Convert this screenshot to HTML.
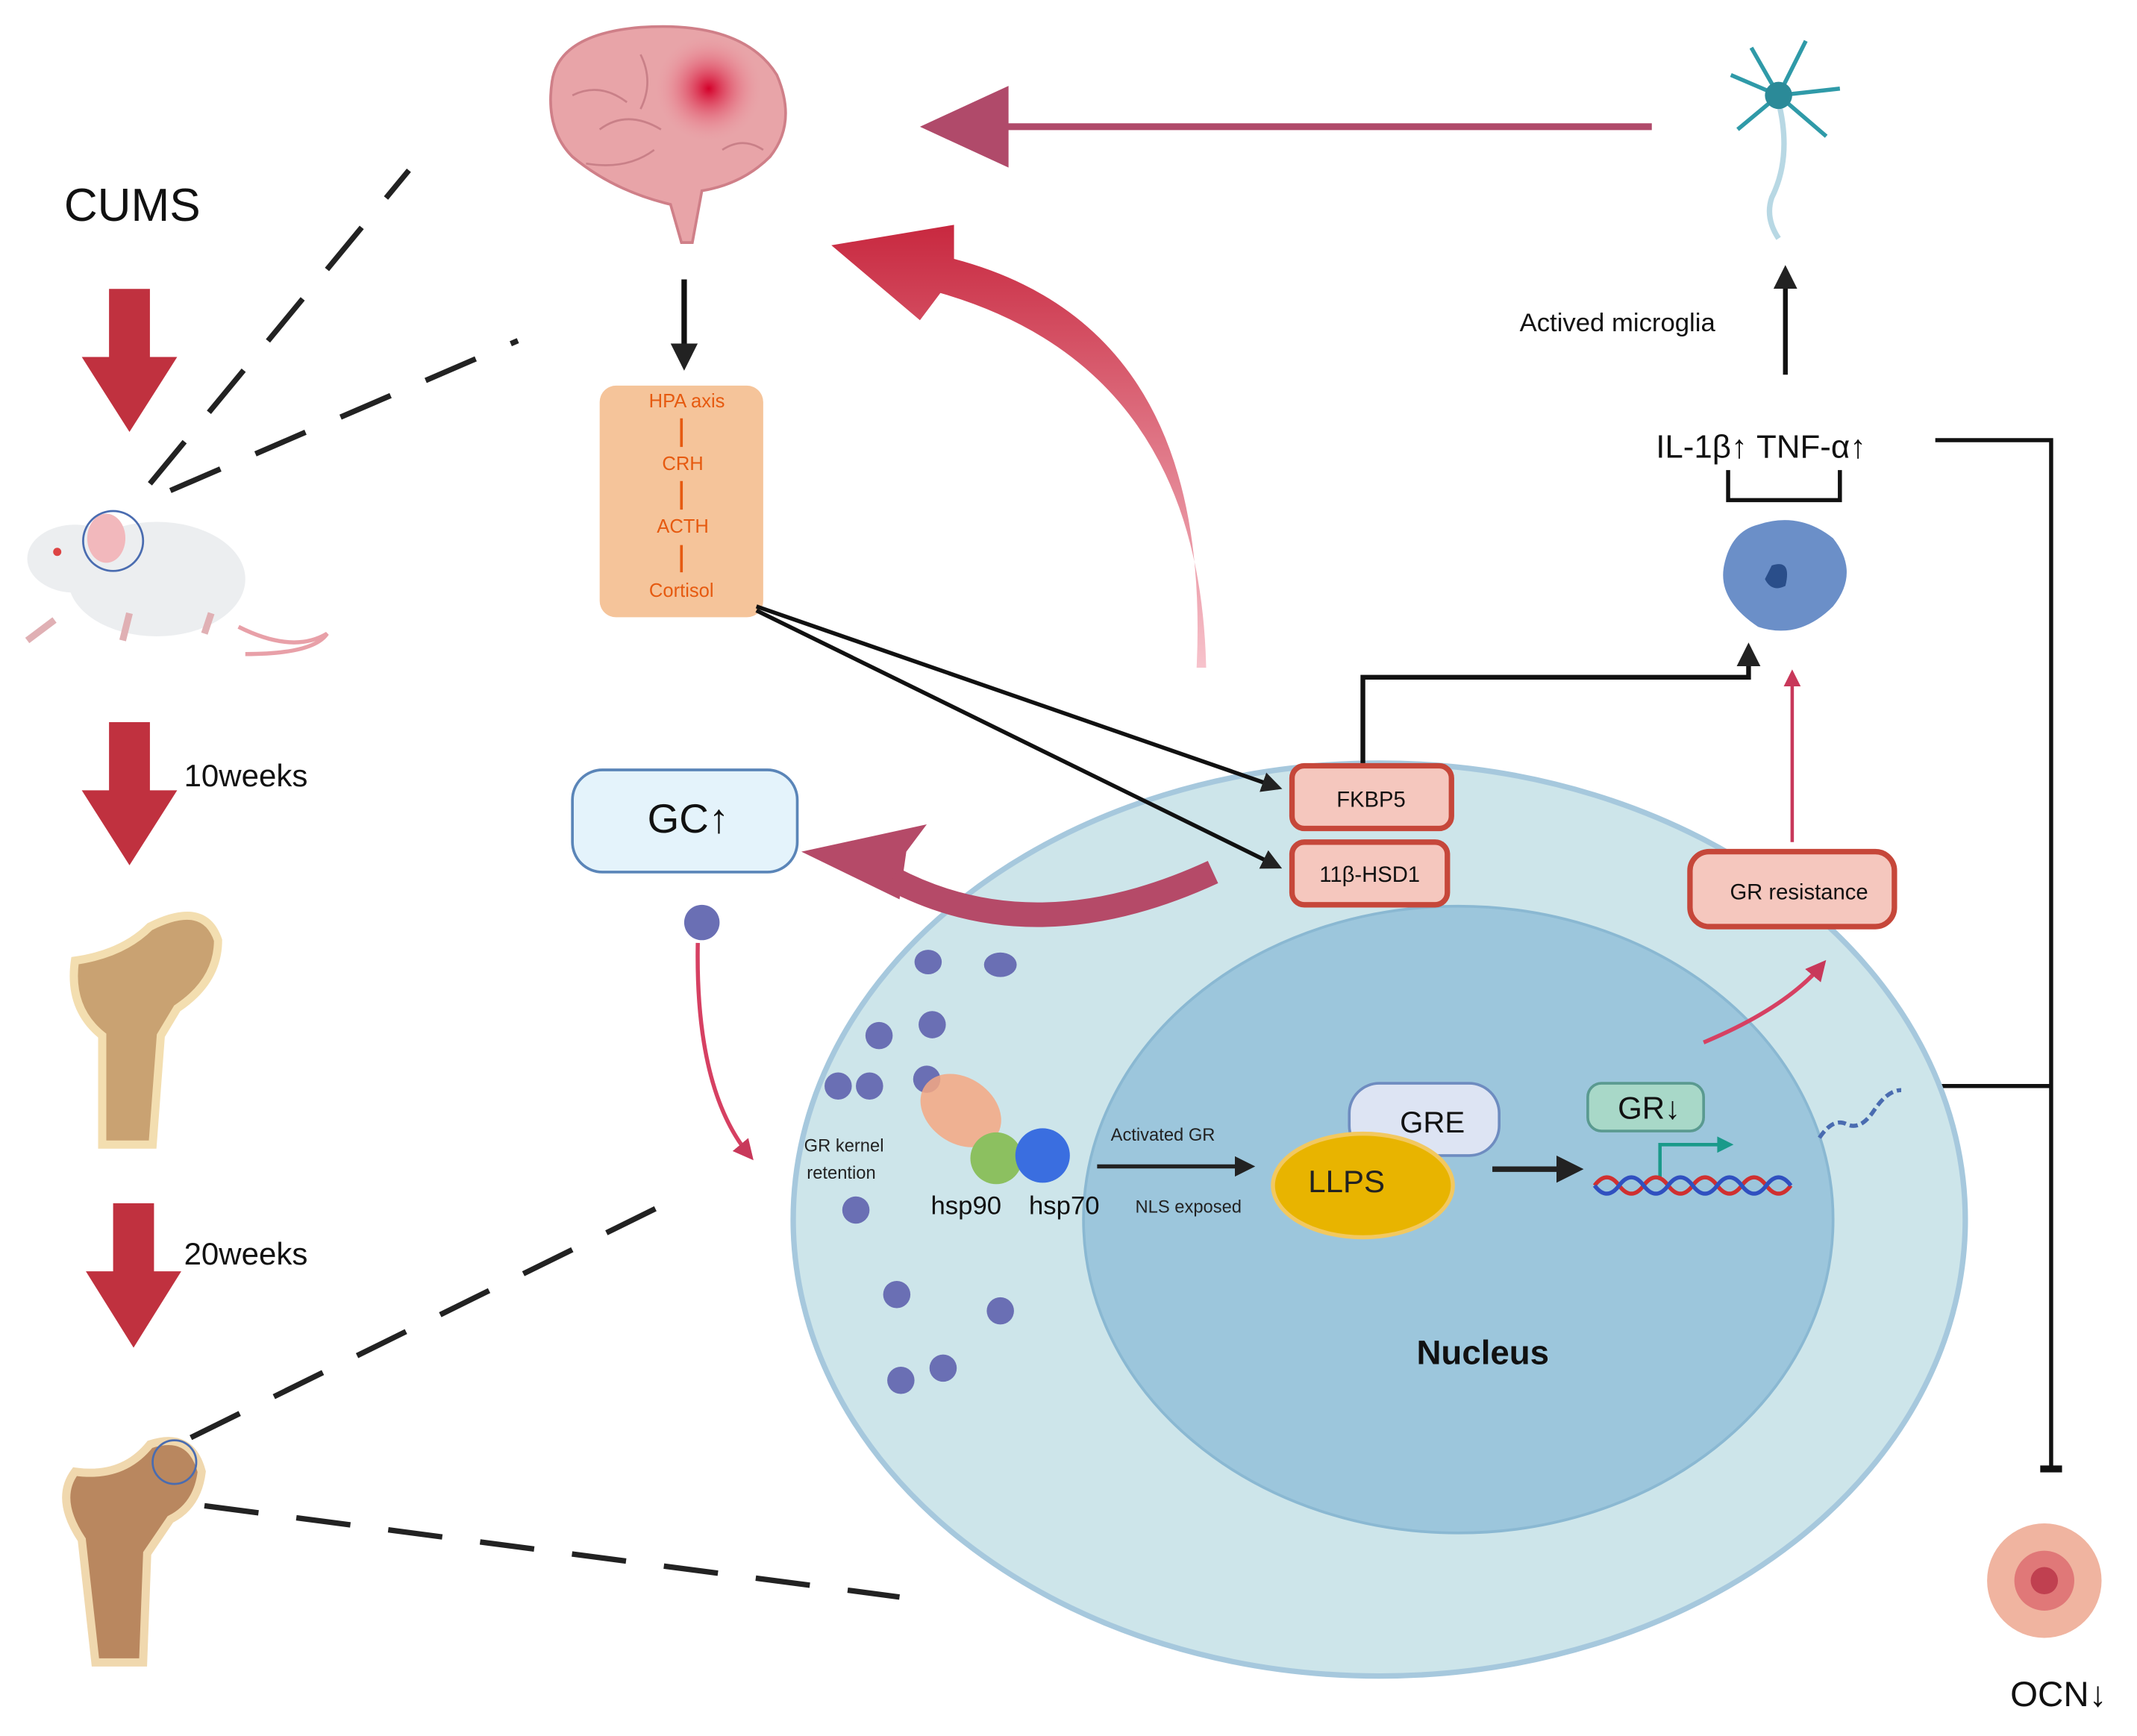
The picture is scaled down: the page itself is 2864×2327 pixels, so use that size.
<!DOCTYPE html>
<html><head><meta charset="utf-8"><style>
html,body{margin:0;padding:0;background:#fff;}
svg{display:block;}
text{font-family:"Liberation Sans",sans-serif;}
</style></head><body>
<svg width="2864" height="2327" viewBox="0 0 1568 1274" xmlns="http://www.w3.org/2000/svg">
<defs>
<marker id="ab" markerWidth="5" markerHeight="5" refX="4" refY="2.5" orient="auto" markerUnits="strokeWidth"><path d="M0,0 L5,2.5 L0,5 Z" fill="#222"/></marker>
<marker id="ap" markerWidth="5" markerHeight="5" refX="3.5" refY="2.5" orient="auto" markerUnits="strokeWidth"><path d="M0,0 L5,2.5 L0,5 Z" fill="#c8385a"/></marker>
<radialGradient id="spot" cx="0.5" cy="0.5" r="0.5"><stop offset="0" stop-color="#d4002a"/><stop offset="1" stop-color="#f0a0a8" stop-opacity="0"/></radialGradient>
<linearGradient id="cur" x1="0" y1="1" x2="0" y2="0"><stop offset="0" stop-color="#f7c3cc"/><stop offset="1" stop-color="#c8283f"/></linearGradient>
</defs>

<text x="47" y="162" font-size="34" fill="#111">CUMS</text>
<g fill="#c0313f">
<path d="M80,212 h30 v50 h20 l-35,55 l-35,-55 h20 z"/>
<path d="M80,530 h30 v50 h20 l-35,55 l-35,-55 h20 z"/>
<path d="M83,883 h30 v50 h20 l-35,56 l-35,-56 h20 z"/>
</g>
<text x="135" y="577" font-size="23" fill="#111">10weeks</text>
<text x="135" y="928" font-size="23" fill="#111">20weeks</text>

<g>
<path d="M175,460 q40,20 65,5 q-10,15 -60,15" fill="none" stroke="#e8a0a8" stroke-width="3"/>
<ellipse cx="115" cy="425" rx="65" ry="42" fill="#eceef0"/>
<ellipse cx="55" cy="410" rx="35" ry="25" fill="#eceef0"/>
<ellipse cx="78" cy="395" rx="14" ry="18" fill="#f2b8bc"/>
<circle cx="83" cy="397" r="22" fill="none" stroke="#4a6cb0" stroke-width="1.5"/>
<circle cx="42" cy="405" r="3" fill="#d44"/>
<path d="M20,470 l20,-15 M90,470 l5,-20 M150,465 l5,-15" stroke="#e0b0b4" stroke-width="5"/>
</g>

<path d="M75,840 L75,760 Q50,740 55,705 Q90,700 110,680 Q150,660 160,690 Q160,720 130,740 L118,760 L112,840 Z" fill="#c9a272" stroke="#f3deb0" stroke-width="6"/>
<path d="M70,1220 L60,1130 Q40,1100 55,1080 Q90,1085 110,1060 Q140,1050 148,1080 Q145,1105 125,1115 L108,1140 L105,1220 Z" fill="#b9875f" stroke="#f0d8ae" stroke-width="6"/>
<circle cx="128" cy="1073" r="16" fill="none" stroke="#4a6cb0" stroke-width="1.5"/>

<g stroke="#222" stroke-width="4" stroke-dasharray="40,28">
<line x1="110" y1="355" x2="300" y2="125"/>
<line x1="125" y1="360" x2="380" y2="250"/>
<line x1="140" y1="1055" x2="485" y2="885"/>
<line x1="150" y1="1105" x2="660" y2="1172"/>
</g>

<path d="M405,60 Q410,25 470,20 Q545,15 570,55 Q585,90 565,115 Q545,135 515,140 L508,178 L500,178 L492,150 Q450,140 420,115 Q400,95 405,60 Z" fill="#e8a4a8" stroke="#cf7f88" stroke-width="2"/>
<circle cx="520" cy="65" r="40" fill="url(#spot)"/>
<path d="M420,70 q20,-10 40,5 M440,95 q20,-15 45,0 M470,40 q10,20 0,40 M430,120 q30,5 50,-10 M530,110 q15,-10 30,0" fill="none" stroke="#c98088" stroke-width="1.5"/>
<line x1="502" y1="205" x2="502" y2="268" stroke="#111" stroke-width="4" marker-end="url(#ab)"/>

<rect x="440" y="283" width="120" height="170" rx="12" fill="#f5c49a"/>
<g font-size="14" fill="#e65a10" text-anchor="middle">
<text x="504" y="299">HPA axis</text>
<text x="501" y="345">CRH</text>
<text x="501" y="391">ACTH</text>
<text x="500" y="438">Cortisol</text>
</g>
<g stroke="#e65a10" stroke-width="2">
<line x1="500" y1="307" x2="500" y2="328"/><line x1="500" y1="353" x2="500" y2="374"/><line x1="500" y1="400" x2="500" y2="420"/>
</g>

<line x1="1212" y1="93" x2="735" y2="93" stroke="#b04a6a" stroke-width="5"/>
<path d="M675,93 L740,63 L740,123 Z" fill="#b04a6a"/>

<g stroke="#2f9aa8" stroke-width="3" fill="none">
<path d="M1305,70 l-35,-15 M1305,70 l-20,-35 M1305,70 l20,-40 M1305,70 l45,-5 M1305,70 l-30,25 M1305,70 l35,30"/>
<path d="M1305,75 q10,40 -5,70 q-5,15 5,30" stroke="#b8d8e4" stroke-width="4"/>
</g>
<circle cx="1305" cy="70" r="10" fill="#2b8a98"/>

<path d="M885,490 Q880,270 690,215 L675,235 L610,180 L700,165 L700,190 Q890,240 878,490 Z" fill="url(#cur)"/>

<line x1="1310" y1="275" x2="1310" y2="198" stroke="#111" stroke-width="3.5" marker-end="url(#ab)"/>
<text x="1115" y="243" font-size="19" fill="#111">Actived microglia</text>
<text x="1215" y="336" font-size="24" fill="#111">IL-1β↑  TNF-α↑</text>
<path d="M1268,345 V367 H1350 V345" fill="none" stroke="#111" stroke-width="3"/>
<path d="M1290,385 Q1320,375 1345,395 Q1365,420 1345,445 Q1320,470 1290,460 Q1260,440 1265,415 Q1270,390 1290,385 Z" fill="#6b8fc8"/>
<path d="M1300,415 q15,-5 10,15 q-10,5 -15,-5" fill="#2a4e8a"/>
<path d="M1420,323 H1505 V1078" fill="none" stroke="#111" stroke-width="3"/>
<line x1="1497" y1="1078" x2="1513" y2="1078" stroke="#111" stroke-width="5"/>
<line x1="1415" y1="797" x2="1505" y2="797" stroke="#111" stroke-width="3"/>

<circle cx="1500" cy="1160" r="42" fill="#f0b4a0"/>
<circle cx="1500" cy="1160" r="22" fill="#e07878"/>
<circle cx="1500" cy="1160" r="10" fill="#c04050"/>
<text x="1475" y="1252" font-size="26" fill="#111">OCN↓</text>

<ellipse cx="1012" cy="895" rx="430" ry="335" fill="#cde5ea" stroke="#a6c8dd" stroke-width="4"/>
<ellipse cx="1070" cy="895" rx="275" ry="230" fill="#9cc6dc" stroke="#8ab8d2" stroke-width="2"/>
<text x="1088" y="1001" font-size="25" font-weight="bold" text-anchor="middle" fill="#111">Nucleus</text>

<line x1="555" y1="445" x2="938" y2="578" stroke="#111" stroke-width="3" marker-end="url(#ab)"/>
<line x1="555" y1="448" x2="938" y2="636" stroke="#111" stroke-width="3" marker-end="url(#ab)"/>

<rect x="948" y="562" width="117" height="46" rx="9" fill="#f5c7be" stroke="#c6473a" stroke-width="4"/>
<text x="1006" y="592" font-size="16" text-anchor="middle" fill="#111">FKBP5</text>
<rect x="948" y="618" width="114" height="46" rx="9" fill="#f5c7be" stroke="#c6473a" stroke-width="4"/>
<text x="1005" y="647" font-size="16" text-anchor="middle" fill="#111">11β-HSD1</text>
<path d="M1000,560 V497 H1283 V475" fill="none" stroke="#111" stroke-width="3.5" marker-end="url(#ab)"/>

<rect x="1240" y="625" width="150" height="55" rx="14" fill="#f5c7be" stroke="#c6473a" stroke-width="4"/>
<text x="1320" y="660" font-size="16" text-anchor="middle" fill="#111">GR resistance</text>
<line x1="1315" y1="618" x2="1315" y2="495" stroke="#c8385a" stroke-width="2.5" marker-end="url(#ap)"/>
<path d="M1250,765 Q1310,740 1337,708" fill="none" stroke="#d64062" stroke-width="3" marker-end="url(#ap)"/>

<rect x="420" y="565" width="165" height="75" rx="22" fill="#e4f3fb" stroke="#5a85b8" stroke-width="2"/>
<text x="505" y="611" font-size="30" text-anchor="middle" fill="#111">GC↑</text>
<path d="M660,660 L588,625 L680,605 L665,625 Z" fill="#b54a68"/>
<path d="M890,640 Q760,700 655,645" fill="none" stroke="#b54a68" stroke-width="18"/>

<g fill="#6a6fb4">
<circle cx="515" cy="677" r="13"/>
<ellipse cx="681" cy="706" rx="10" ry="9"/><ellipse cx="734" cy="708" rx="12" ry="9"/>
<circle cx="645" cy="760" r="10"/><circle cx="684" cy="752" r="10"/>
<circle cx="615" cy="797" r="10"/><circle cx="638" cy="797" r="10"/><circle cx="680" cy="792" r="10"/>
<circle cx="628" cy="888" r="10"/>
<circle cx="658" cy="950" r="10"/><circle cx="734" cy="962" r="10"/>
<circle cx="661" cy="1013" r="10"/><circle cx="692" cy="1004" r="10"/>
</g>
<path d="M512,692 Q510,800 550,848" fill="none" stroke="#d64062" stroke-width="3" marker-end="url(#ap)"/>

<ellipse cx="705" cy="815" rx="32" ry="24" transform="rotate(35 705 815)" fill="#f5a882" opacity="0.85"/>
<circle cx="731" cy="850" r="19" fill="#8cc060"/>
<circle cx="765" cy="848" r="20" fill="#3a6ee0"/>
<text x="683" y="891" font-size="19" fill="#111">hsp90</text>
<text x="755" y="891" font-size="19" fill="#111">hsp70</text>
<text x="590" y="845" font-size="13" fill="#222">GR kernel</text>
<text x="592" y="865" font-size="13" fill="#222">retention</text>
<line x1="805" y1="856" x2="918" y2="856" stroke="#222" stroke-width="3" marker-end="url(#ab)"/>
<text x="815" y="837" font-size="13" fill="#222">Activated GR</text>
<text x="833" y="890" font-size="13" fill="#222">NLS exposed</text>

<rect x="990" y="795" width="110" height="53" rx="22" fill="#dde4f3" stroke="#6e8cc0" stroke-width="2"/>
<text x="1051" y="831" font-size="22" text-anchor="middle" fill="#111">GRE</text>
<ellipse cx="1000" cy="870" rx="66" ry="38" fill="#e8b400" stroke="#f2c860" stroke-width="3"/>
<text x="988" y="875" font-size="23" text-anchor="middle" fill="#222">LLPS</text>
<line x1="1095" y1="858" x2="1158" y2="858" stroke="#222" stroke-width="4" marker-end="url(#ab)"/>

<rect x="1165" y="795" width="85" height="35" rx="10" fill="#a8d8c8" stroke="#5a9a90" stroke-width="2"/>
<text x="1210" y="821" font-size="23" text-anchor="middle" fill="#111">GR↓</text>
<path d="M1218,866 V840 H1262" fill="none" stroke="#1a9a8a" stroke-width="2.5"/>
<path d="M1260,834 L1272,840 L1260,846 Z" fill="#1a9a8a"/>
<path d="M1170,870 q9,-12 18,0 t18,0 t18,0 t18,0 t18,0 t18,0 t18,0 t18,0" fill="none" stroke="#d03030" stroke-width="3"/>
<path d="M1170,870 q9,12 18,0 t18,0 t18,0 t18,0 t18,0 t18,0 t18,0 t18,0" fill="none" stroke="#3050c0" stroke-width="3"/>
<path d="M1335,835 q10,-15 20,-10 t20,-10 t20,-15" fill="none" stroke="#4a6cb0" stroke-width="3" stroke-dasharray="6,3"/>
</svg>
</body></html>
